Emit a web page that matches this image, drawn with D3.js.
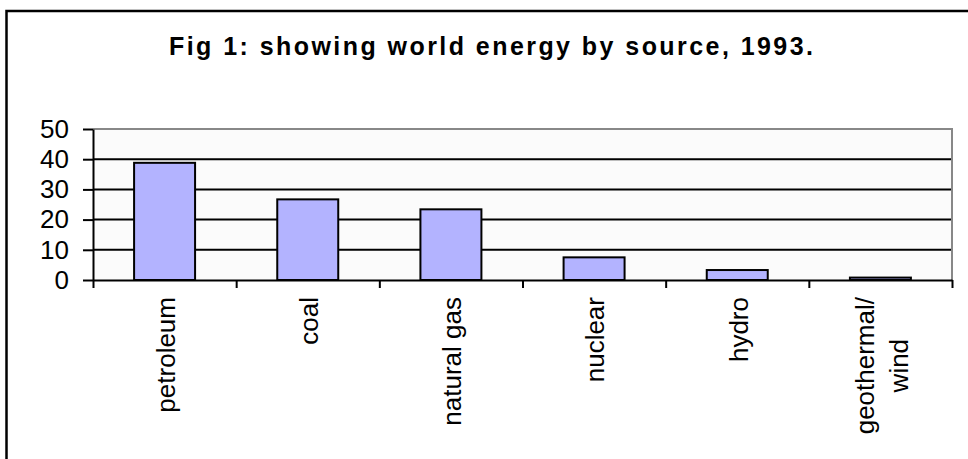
<!DOCTYPE html>
<html>
<head>
<meta charset="utf-8">
<script src="https://cdn.jsdelivr.net/npm/d3@7"></script>
<style>
  html, body { margin: 0; padding: 0; background: #fff; }
  svg { display: block; font-family: "Liberation Sans", Arial, sans-serif; }
</style>
</head>
<body>
<div id="chart"></div>
<script>
const title = 'Fig 1: showing world energy by source, 1993.';
const categories = ['petroleum', 'coal', 'natural gas', 'nuclear', 'hydro', 'geothermal/wind'];
const values = [38.8, 26.7, 23.4, 7.5, 3.3, 0.8];
const yTicks = [0, 10, 20, 30, 40, 50];

const width = 968, height = 459;
const plot = { left: 93, right: 952, top: 129, bottom: 280 };

const svg = d3.select('#chart').append('svg')
  .attr('width', width)
  .attr('height', height);

// chart frame (runs off the right and bottom edges)
svg.append('rect')
  .attr('x', 6.5).attr('y', 11)
  .attr('width', 990).attr('height', 480)
  .attr('fill', '#fff')
  .attr('stroke', '#000')
  .attr('stroke-width', 2.5);

svg.append('text')
  .attr('x', 491).attr('y', 55)
  .attr('text-anchor', 'middle')
  .attr('font-size', 25)
  .attr('font-weight', 'bold')
  .attr('textLength', 644)
  .attr('lengthAdjust', 'spacing')
  .text(title);

const x = d3.scaleBand()
  .domain(categories)
  .range([plot.left, plot.right])
  .padding(0);

const xEdges = d3.scaleLinear()
  .domain([0, categories.length])
  .range([plot.left, plot.right]);

const y = d3.scaleLinear()
  .domain([0, 50])
  .range([plot.bottom, plot.top]);

// plot area
svg.append('rect')
  .attr('x', plot.left).attr('y', plot.top)
  .attr('width', plot.right - plot.left)
  .attr('height', plot.bottom - plot.top)
  .attr('fill', '#fbfbfb');

// gridlines
svg.append('g')
  .selectAll('line')
  .data(yTicks.filter(d => d > 0 && d < 50))
  .enter().append('line')
  .attr('x1', plot.left).attr('x2', plot.right)
  .attr('y1', d => y(d)).attr('y2', d => y(d))
  .attr('stroke', '#000')
  .attr('stroke-width', 2);

// gray top and right border of plot area
svg.append('path')
  .attr('d', `M${plot.left},${y(50)}H${plot.right}V${plot.bottom}`)
  .attr('fill', 'none')
  .attr('stroke', '#888')
  .attr('stroke-width', 2);

// bars
const barWidth = x.bandwidth() * 0.426;
svg.selectAll('rect.bar')
  .data(values)
  .enter().append('rect')
  .attr('class', 'bar')
  .attr('x', (d, i) => x(categories[i]) + (x.bandwidth() - barWidth) / 2)
  .attr('y', d => y(d))
  .attr('width', barWidth)
  .attr('height', d => y(0) - y(d))
  .attr('fill', '#b3b3ff')
  .attr('stroke', '#000')
  .attr('stroke-width', 2);

// y axis
const yAxis = svg.append('g')
  .attr('transform', `translate(${plot.left},0)`)
  .call(d3.axisLeft(y).tickValues(yTicks).tickSize(10).tickPadding(14).tickSizeOuter(0));
yAxis.selectAll('.domain, .tick line').attr('stroke', '#000').attr('stroke-width', 2);
yAxis.selectAll('text')
  .attr('font-size', 26)
  .attr('font-family', '"Liberation Sans", Arial, sans-serif')
  .attr('fill', '#000');

// x axis with ticks on category boundaries
const xAxis = svg.append('g')
  .attr('transform', `translate(0,${plot.bottom})`)
  .call(d3.axisBottom(xEdges).ticks(categories.length).tickSize(8).tickFormat('').tickSizeOuter(0));
xAxis.selectAll('.domain, .tick line').attr('stroke', '#000').attr('stroke-width', 2);

// category labels, rotated
const labelTop = 297;
const lineHeight = 34;
categories.forEach(c => {
  const lines = c.includes('/') ? [c.slice(0, c.indexOf('/') + 1), c.slice(c.indexOf('/') + 1)] : [c];
  const cx = x(c) + x.bandwidth() / 2;
  const g = svg.append('g');
  const t = g.append('text')
    .attr('font-size', 26)
    .attr('fill', '#000');
  lines.forEach((ln, i) => {
    t.append('tspan')
      .attr('x', 0)
      .attr('y', (i - (lines.length - 1) / 2) * lineHeight)
      .attr('dy', '0.4em')
      .text(ln);
  });
  if (lines.length === 1) {
    t.attr('text-anchor', 'end');
    g.attr('transform', `translate(${cx},${labelTop}) rotate(-90)`);
  } else {
    t.attr('text-anchor', 'middle');
    const maxLen = d3.max(t.selectAll('tspan').nodes(), n => n.getComputedTextLength());
    g.attr('transform', `translate(${cx},${labelTop + maxLen / 2}) rotate(-90)`);
  }
});
</script>
</body>
</html>
